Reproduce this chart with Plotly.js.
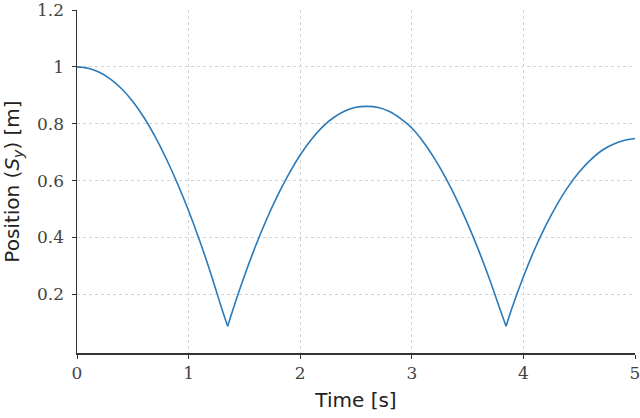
<!DOCTYPE html>
<html>
<head>
<meta charset="utf-8">
<script src="https://cdn.plot.ly/plotly-3.0.1.min.js"></script>
<style>html,body{margin:0;padding:0;background:#fff}#chart{width:640px;height:418px}</style>
</head>
<body>
<div id="chart"></div>
<script>
// Time samples [s]
const timeS = [
  0.0, 0.1, 0.2, 0.3, 0.4, 0.5, 0.6, 0.7, 0.8, 0.9, 1.0, 1.1, 1.2, 1.3, 1.35,
  1.4, 1.5, 1.6, 1.7, 1.8, 1.9, 2.0, 2.1, 2.2, 2.3, 2.4, 2.5, 2.6, 2.7, 2.8, 2.9,
  3.0, 3.1, 3.2, 3.3, 3.4, 3.5, 3.6, 3.7, 3.8, 3.845,
  3.9, 4.0, 4.1, 4.2, 4.3, 4.4, 4.5, 4.6, 4.7, 4.8, 4.9, 5.0
];
// Position S_y [m]
const positionM = [
  1.000, 0.995, 0.981, 0.957, 0.923, 0.878, 0.822, 0.755, 0.677, 0.590, 0.494, 0.388, 0.272, 0.147, 0.088,
  0.150, 0.265, 0.370, 0.465, 0.550, 0.625, 0.690, 0.745, 0.789, 0.822, 0.845, 0.858, 0.861, 0.857, 0.843, 0.818,
  0.785, 0.738, 0.680, 0.612, 0.535, 0.449, 0.354, 0.250, 0.137, 0.088,
  0.155, 0.262, 0.358, 0.442, 0.515, 0.578, 0.630, 0.672, 0.705, 0.727, 0.741, 0.748
];
// indices of the bounce points (segments are drawn smooth between them)
const bounceIdx = [14, 40];
const xTicks = [0, 1, 2, 3, 4, 5];
const yTicks = [0.2, 0.4, 0.6, 0.8, 1.0, 1.2];
const yTickText = ["0.2", "0.4", "0.6", "0.8", "1", "1.2"];

const bounds = [0, ...bounceIdx, timeS.length - 1];
const traces = [];
for (let k = 0; k < bounds.length - 1; k++) {
  const a = bounds[k], b = bounds[k + 1];
  traces.push({
    x: timeS.slice(a, b + 1), y: positionM.slice(a, b + 1),
    type: 'scatter', mode: 'lines',
    line: {color: '#2a7ab9', width: 1.6, shape: 'spline', smoothing: 1},
    hoverinfo: 'skip', showlegend: false
  });
}

const tickFont = {family: '"DejaVu Serif", serif', size: 17, color: '#444'};
const titleFont = {family: '"DejaVu Sans", sans-serif', size: 20, color: '#222'};

const layout = {
  width: 640, height: 418,
  margin: {l: 77, r: 5, t: 10, b: 65},
  paper_bgcolor: '#fff', plot_bgcolor: '#fff',
  xaxis: {
    range: [0, 5], tickvals: xTicks, ticktext: xTicks.map(String),
    ticklabeloverflow: 'allow',
    showline: true, linecolor: '#333', linewidth: 1.5,
    ticks: 'outside', ticklen: 4, tickcolor: '#333', tickwidth: 1,
    showgrid: true, gridcolor: '#d4d4d4', griddash: 'dot', gridwidth: 1,
    zeroline: false, tickfont: tickFont,
    title: {text: 'Time [s]', font: titleFont, standoff: 11}
  },
  yaxis: {
    range: [-0.006, 1.2], tickvals: yTicks, ticktext: yTickText,
    ticklabeloverflow: 'allow',
    showline: true, linecolor: '#333', linewidth: 1.5,
    ticks: 'outside', ticklen: 4, tickcolor: '#333', tickwidth: 1,
    ticklabelstandoff: 4,
    showgrid: true, gridcolor: '#d4d4d4', griddash: 'dot', gridwidth: 1,
    zeroline: false, tickfont: tickFont,
    title: {text: 'Position (<i>S</i><sub><i>y</i></sub>) [m]', font: titleFont, standoff: 12}
  }
};

Plotly.newPlot('chart', traces, layout, {staticPlot: true, displayModeBar: false});
</script>
</body>
</html>
